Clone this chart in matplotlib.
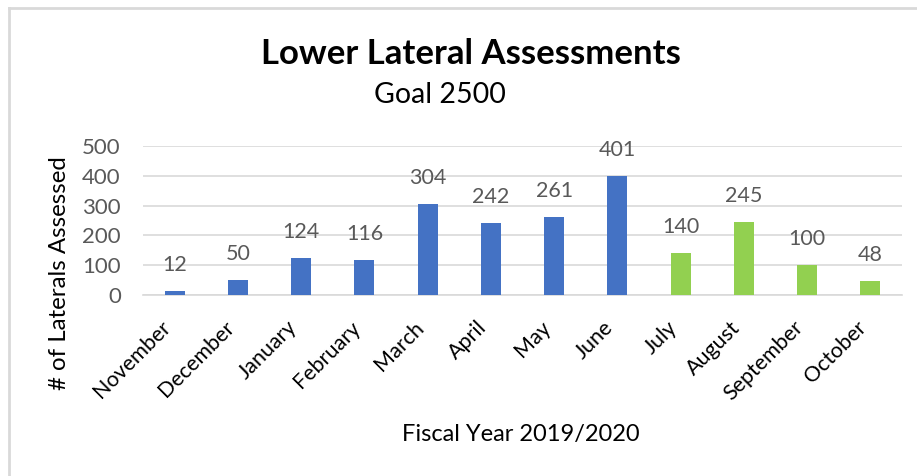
import matplotlib.pyplot as plt
from matplotlib.lines import Line2D

# chart data
months = ["November", "December", "January", "February", "March", "April",
          "May", "June", "July", "August", "September", "October"]
assessed = [12, 50, 124, 116, 304, 242, 261, 401, 140, 245, 100, 48]
bar_colors = ["#4472C4"] * 8 + ["#92D050"] * 4
y_ticks = [0, 100, 200, 300, 400, 500]

plt.rcParams['font.family'] = ['Lato', 'DejaVu Sans']

W, H = 917, 476
fig = plt.figure(figsize=(W / 100, H / 100), dpi=100)

# plot area placed in pixel terms of the reference
left, right, top, bottom = 143, 902, 146, 295
ax = fig.add_axes([left / W, 1 - bottom / H, (right - left) / W, (bottom - top) / H])

x = list(range(len(months)))
bars = ax.bar(x, assessed, width=0.32, color=bar_colors, zorder=3)

# data labels
for b, v in zip(bars, assessed):
    ax.annotate(str(v), (b.get_x() + b.get_width() / 2, v), xytext=(0, 11.5),
                textcoords="offset points", ha="center", va="bottom",
                fontsize=15.5, color="#595959")

ax.set_xlim(-0.5, len(months) - 0.5)
ax.set_ylim(0, 500)
ax.set_yticks(y_ticks)
ax.set_yticklabels([str(t) for t in y_ticks], fontsize=16, color="#595959")
ax.set_xticks(x)
ax.set_xticklabels(months, rotation=45, ha="right", va="top", fontsize=15.5, color="#000000")
ax.tick_params(axis="both", length=0)
ax.tick_params(axis="y", pad=16)
ax.tick_params(axis="x", pad=16)

ax.grid(axis="y", color="#D9D9D9", linewidth=1.2, zorder=0)
for s in ["top", "right", "left"]:
    ax.spines[s].set_visible(False)
ax.spines["bottom"].set_color("#D9D9D9")
ax.spines["bottom"].set_linewidth(1.2)

# titles and axis labels
fig.text(471 / W, 1 - 54 / H, "Lower Lateral Assessments", ha="center", va="center",
         fontsize=25, fontweight="bold", color="#000000")
fig.text(440 / W, 1 - 95 / H, "Goal 2500", ha="center", va="center",
         fontsize=20.5, color="#000000")
fig.text(521 / W, 1 - 435 / H, "Fiscal Year 2019/2020", ha="center", va="center",
         fontsize=17, color="#000000")
fig.text(60 / W, 1 - 273 / H, "# of Laterals Assessed", ha="center", va="center",
         rotation=90, fontsize=17.3, color="#000000")

# light frame around the chart (top and left edges show in the reference)
fig.add_artist(Line2D([9 / W, 1], [1 - 8 / H, 1 - 8 / H], color="#D9D9D9", linewidth=2))
fig.add_artist(Line2D([9 / W, 9 / W], [0, 1 - 8 / H], color="#D9D9D9", linewidth=2))

fig.savefig("out.png", dpi=100)
